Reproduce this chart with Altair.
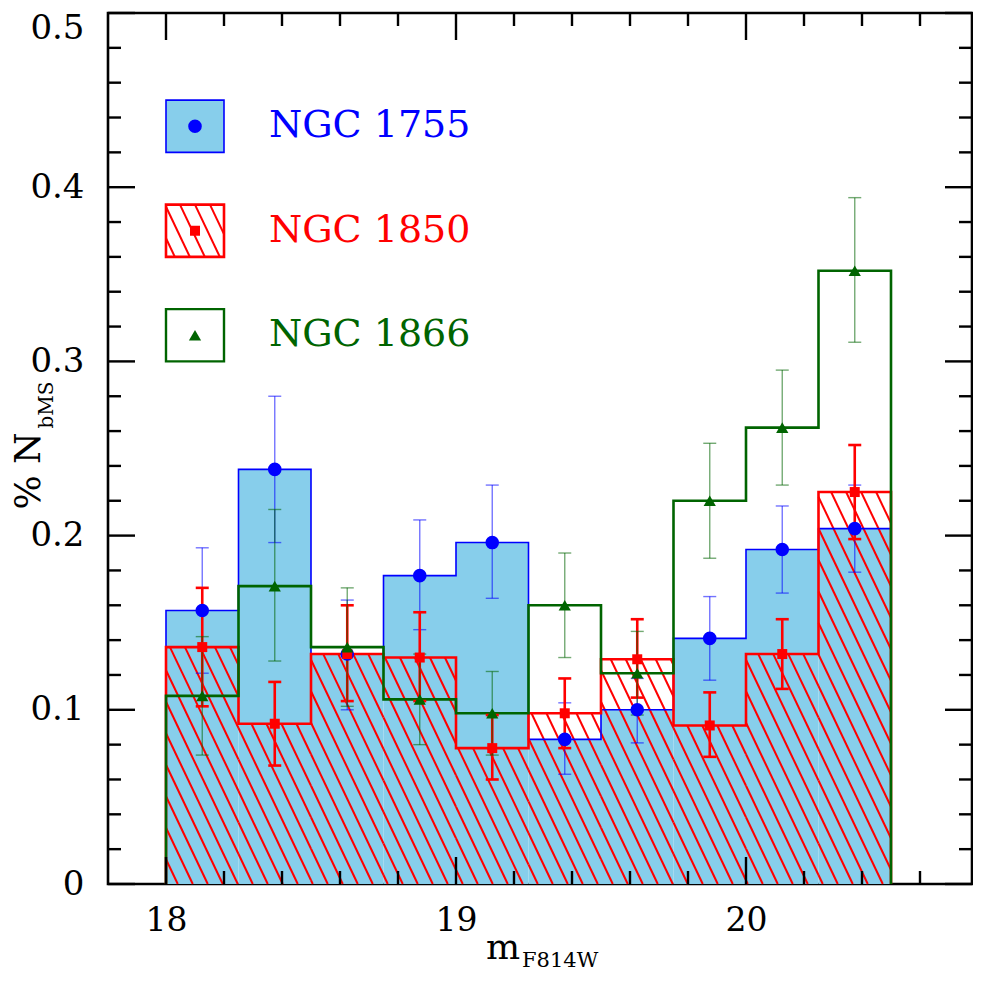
import altair as alt
import pandas as pd
import math

# ---------------- data ----------------
edges = [18.0, 18.25, 18.5, 18.75, 19.0, 19.25, 19.5, 19.75, 20.0, 20.25, 20.5]
centers = [18.125, 18.375, 18.625, 18.875, 19.125, 19.375, 19.625, 19.875, 20.125, 20.375]

n1755 = [0.157, 0.238, 0.132, 0.177, 0.196, 0.083, 0.100, 0.141, 0.192, 0.204]
n1755_lo = [0.121, 0.196, 0.100, 0.146, 0.164, 0.063, 0.081, 0.117, 0.167, 0.179]
n1755_hi = [0.193, 0.280, 0.163, 0.209, 0.229, 0.104, 0.118, 0.165, 0.217, 0.229]

n1850 = [0.136, 0.092, 0.132, 0.130, 0.078, 0.098, 0.129, 0.091, 0.132, 0.225]
n1850_lo = [0.102, 0.068, 0.105, 0.105, 0.060, 0.078, 0.107, 0.073, 0.112, 0.198]
n1850_hi = [0.170, 0.116, 0.160, 0.156, 0.097, 0.118, 0.152, 0.110, 0.152, 0.252]

n1866 = [0.108, 0.171, 0.136, 0.106, 0.098, 0.160, 0.121, 0.220, 0.262, 0.352]
n1866_lo = [0.074, 0.128, 0.102, 0.080, 0.074, 0.130, 0.097, 0.187, 0.229, 0.311]
n1866_hi = [0.142, 0.215, 0.170, 0.132, 0.122, 0.190, 0.145, 0.253, 0.295, 0.394]

names = ["NGC 1755", "NGC 1850", "NGC 1866"]
legend_x = [18.0, 18.2]
legend_y = [[0.42, 0.45], [0.36, 0.39], [0.30, 0.33]]
legend_text_x = 18.355

x_major = [18, 19, 20]
x_minor = [18.2, 18.4, 18.6, 18.8, 19.2, 19.4, 19.6, 19.8, 20.2, 20.4, 20.6]
y_major = [0.0, 0.1, 0.2, 0.3, 0.4, 0.5]
y_minor = [0.02, 0.04, 0.06, 0.08, 0.12, 0.14, 0.16, 0.18, 0.22, 0.24, 0.26, 0.28,
           0.32, 0.34, 0.36, 0.38, 0.42, 0.44, 0.46, 0.48]

# ---------------- styling ----------------
FONT = "DejaVu Serif"
BLUE = "#0000ff"
SKY = "#87ceeb"
RED = "#ff0000"
GREEN = "#006400"

PXU = 290.0            # pixels per magnitude
W, H = 864, 871
X0 = 17.8
X1 = X0 + W / PXU
Y0, Y1 = 0.0, 0.5
XS = W / (X1 - X0)
YS = H / (Y1 - Y0)

xs = alt.Scale(domain=[X0, X1], nice=False, zero=False)
ys = alt.Scale(domain=[Y0, Y1], nice=False, zero=False)
xax = alt.Axis(values=x_major, title=None, ticks=False, tickSize=0, domain=False, grid=False,
               labelFont=FONT, labelFontSize=33, labelPadding=20, labelColor="black",
               labelFlush=False, labelOverlap=False, labelBound=False, format="d")
yax = alt.Axis(values=y_major, title=None, ticks=False, tickSize=0, domain=False, grid=False,
               labelFont=FONT, labelFontSize=34, labelPadding=24, labelColor="black",
               labelFlush=False, labelOverlap=False, labelBound=False,
               labelOffset={"condition": {"test": "datum.value >= 0.5", "value": 15}, "value": 0},
               labelExpr="datum.value == 0 ? '0' : format(datum.value, '.1f')")


def X(f):
    return alt.X(f, type="quantitative", scale=xs, axis=xax)


def Y(f):
    return alt.Y(f, type="quantitative", scale=ys, axis=yax)


# ---------------- derived tables ----------------
bars = pd.DataFrame({"x": edges[:-1], "x2": edges[1:], "c": centers,
                     "b": n1755, "b_lo": n1755_lo, "b_hi": n1755_hi,
                     "r": n1850, "r_lo": n1850_lo, "r_hi": n1850_hi,
                     "g": n1866, "g_lo": n1866_lo, "g_hi": n1866_hi})
bars["zero"] = 0.0


def step(vals):
    pts = [(edges[0], 0.0)]
    for i, v in enumerate(vals):
        pts.append((edges[i], v))
        pts.append((edges[i + 1], v))
    pts.append((edges[-1], 0.0))
    return pd.DataFrame({"x": [p[0] for p in pts], "y": [p[1] for p in pts],
                         "o": list(range(len(pts)))})


def hatch(rects, slope=2.1, spacing=15.0, phase=0.0):
    cs = slope * spacing
    rows = []
    for (xa, xb, yb, yt) in rects:
        Xa, Xb = (xa - X0) * XS, (xb - X0) * XS
        Yt, Yb = (Y1 - yt) * YS, (Y1 - yb) * YS
        cmin, cmax = Yt - slope * Xb, Yb - slope * Xa
        k0 = math.ceil((cmin - phase) / cs)
        k1 = math.floor((cmax - phase) / cs)
        for k in range(k0, k1 + 1):
            c = phase + k * cs
            lo = max(Xa, (Yt - c) / slope)
            hi = min(Xb, (Yb - c) / slope)
            if hi - lo > 0.3:
                rows.append({"x": X0 + lo / XS, "y": Y1 - (slope * lo + c) / YS,
                             "x2": X0 + hi / XS, "y2": Y1 - (slope * hi + c) / YS})
    return pd.DataFrame(rows)


hatch_bins = hatch([(edges[i], edges[i + 1], 0.0, v) for i, v in enumerate(n1850)])
hatch_leg = hatch([(legend_x[0], legend_x[1], legend_y[1][0], legend_y[1][1])], phase=9.0)

# ---------------- layers ----------------
fill = alt.Chart(bars).mark_rect(color=SKY, strokeWidth=0).encode(
    x=X("x"), x2="x2", y=Y("zero"), y2="b")

hl = alt.Chart(hatch_bins).mark_rule(color=RED, strokeWidth=2).encode(
    x=X("x"), y=Y("y"), x2="x2", y2="y2")


def outline(vals, color, w):
    return alt.Chart(step(vals)).mark_line(color=color, strokeWidth=w, interpolate="linear",
                                           strokeJoin="miter").encode(
        x=X("x"), y=Y("y"), order="o:Q")


ol_b = outline(n1755, BLUE, 1.6)
ol_r = outline(n1850, RED, 2.6)
ol_g = outline(n1866, GREEN, 2.6)


def errs(lo, hi, color, w, op):
    base = alt.Chart(bars)
    ln = base.mark_rule(color=color, strokeWidth=w, opacity=op).encode(
        x=X("c"), y=Y(lo), y2=hi)
    t1 = base.mark_tick(color=color, orient="horizontal", size=13, thickness=w, opacity=op).encode(
        x=X("c"), y=Y(lo))
    t2 = base.mark_tick(color=color, orient="horizontal", size=13, thickness=w, opacity=op).encode(
        x=X("c"), y=Y(hi))
    return [ln, t1, t2]


eb = errs("b_lo", "b_hi", BLUE, 1.4, 0.55)
er = errs("r_lo", "r_hi", RED, 2.6, 1.0)
eg = errs("g_lo", "g_hi", GREEN, 1.4, 0.55)

pb = alt.Chart(bars).mark_point(shape="circle", filled=True, size=185, color=BLUE, opacity=1).encode(
    x=X("c"), y=Y("b"))
pr = alt.Chart(bars).mark_point(shape="square", filled=True, size=100, color=RED, opacity=1).encode(
    x=X("c"), y=Y("r"))
pg = alt.Chart(bars).mark_point(shape="triangle-up", filled=True, size=150, color=GREEN, opacity=1).encode(
    x=X("c"), y=Y("g"))

# ---------------- legend ----------------
leg = pd.DataFrame({"name": names, "x": [legend_x[0]] * 3, "x2": [legend_x[1]] * 3,
                    "y": [r[0] for r in legend_y], "y2": [r[1] for r in legend_y],
                    "xm": [(legend_x[0] + legend_x[1]) / 2] * 3,
                    "ym": [(r[0] + r[1]) / 2 for r in legend_y],
                    "xt": [legend_text_x] * 3})
lb = alt.Chart(leg.iloc[[0]]).mark_rect(fill=SKY, stroke=BLUE, strokeWidth=1.6).encode(
    x=X("x"), x2="x2", y=Y("y"), y2="y2")
lr_h = alt.Chart(hatch_leg).mark_rule(color=RED, strokeWidth=2).encode(
    x=X("x"), y=Y("y"), x2="x2", y2="y2")
lr = alt.Chart(leg.iloc[[1]]).mark_rect(fill=None, fillOpacity=0, stroke=RED, strokeWidth=2.6).encode(
    x=X("x"), x2="x2", y=Y("y"), y2="y2")
lg = alt.Chart(leg.iloc[[2]]).mark_rect(fill=None, fillOpacity=0, stroke=GREEN, strokeWidth=2.4).encode(
    x=X("x"), x2="x2", y=Y("y"), y2="y2")
lpb = alt.Chart(leg.iloc[[0]]).mark_point(shape="circle", filled=True, size=185, color=BLUE, opacity=1).encode(
    x=X("xm"), y=Y("ym"))
lpr = alt.Chart(leg.iloc[[1]]).mark_point(shape="square", filled=True, size=100, color=RED, opacity=1).encode(
    x=X("xm"), y=Y("ym"))
lpg = alt.Chart(leg.iloc[[2]]).mark_point(shape="triangle-up", filled=True, size=150, color=GREEN, opacity=1).encode(
    x=X("xm"), y=Y("ym"))
ltext = alt.Chart(leg).mark_text(font=FONT, fontSize=38, align="left", baseline="middle").encode(
    x=X("xt"), y=Y("ym"), text="name:N",
    color=alt.Color("name:N", scale=alt.Scale(domain=names, range=[BLUE, RED, GREEN]), legend=None))

# ---------------- ticks (inward) ----------------
MAJ, MIN = 27, 13
TW = 2.4


def yt(vals, L):
    d = pd.DataFrame({"v": vals})
    a = alt.Chart(d).mark_rule(color="black", strokeWidth=TW).encode(
        y=Y("v"), x=alt.value(0), x2=alt.value(L))
    b = alt.Chart(d).mark_rule(color="black", strokeWidth=TW).encode(
        y=Y("v"), x=alt.value(W - L), x2=alt.value(W))
    return [a, b]


def xt(vals, L):
    d = pd.DataFrame({"v": vals})
    a = alt.Chart(d).mark_rule(color="black", strokeWidth=TW).encode(
        x=X("v"), y=alt.value(H), y2=alt.value(H - L))
    b = alt.Chart(d).mark_rule(color="black", strokeWidth=TW).encode(
        x=X("v"), y=alt.value(0), y2=alt.value(L))
    return [a, b]


ticks = yt(y_major, MAJ) + yt(y_minor, MIN) + xt(x_major, MAJ) + xt(x_minor, MIN)

# ---------------- axis titles ----------------
one = pd.DataFrame({"t": ["% N"], "s": ["bMS"], "m": ["m"], "f": ["F814W"]})
yt1 = alt.Chart(one).mark_text(font=FONT, fontSize=36, angle=270, align="center", baseline="middle",
                               color="black").encode(x=alt.value(-79), y=alt.value(458), text="t:N")
yt2 = alt.Chart(one).mark_text(font=FONT, fontSize=20, angle=270, align="center", baseline="middle",
                               color="black").encode(x=alt.value(-61), y=alt.value(392), text="s:N")
xt1 = alt.Chart(one).mark_text(font=FONT, fontSize=36, align="center", baseline="alphabetic",
                               color="black").encode(x=alt.value(395), y=alt.value(946), text="m:N")
xt2 = alt.Chart(one).mark_text(font=FONT, fontSize=21, align="left", baseline="alphabetic",
                               color="black").encode(x=alt.value(414), y=alt.value(954), text="f:N")

layers = [fill, hl, ol_b, ol_r, ol_g] + eb + er + eg + [pb, pr, pg] + \
    [lb, lr_h, lr, lg, lpb, lpr, lpg, ltext] + ticks + [yt1, yt2, xt1, xt2]

chart = alt.layer(*layers).properties(
    width=W, height=H,
    autosize=alt.AutoSizeParams(type="none"),
    padding={"left": 100, "top": 5, "right": 1, "bottom": 92},
    background="white",
).configure_view(stroke="black", strokeWidth=2.6)

chart.save("out.html", embed_options={"renderer": "svg", "actions": False})
